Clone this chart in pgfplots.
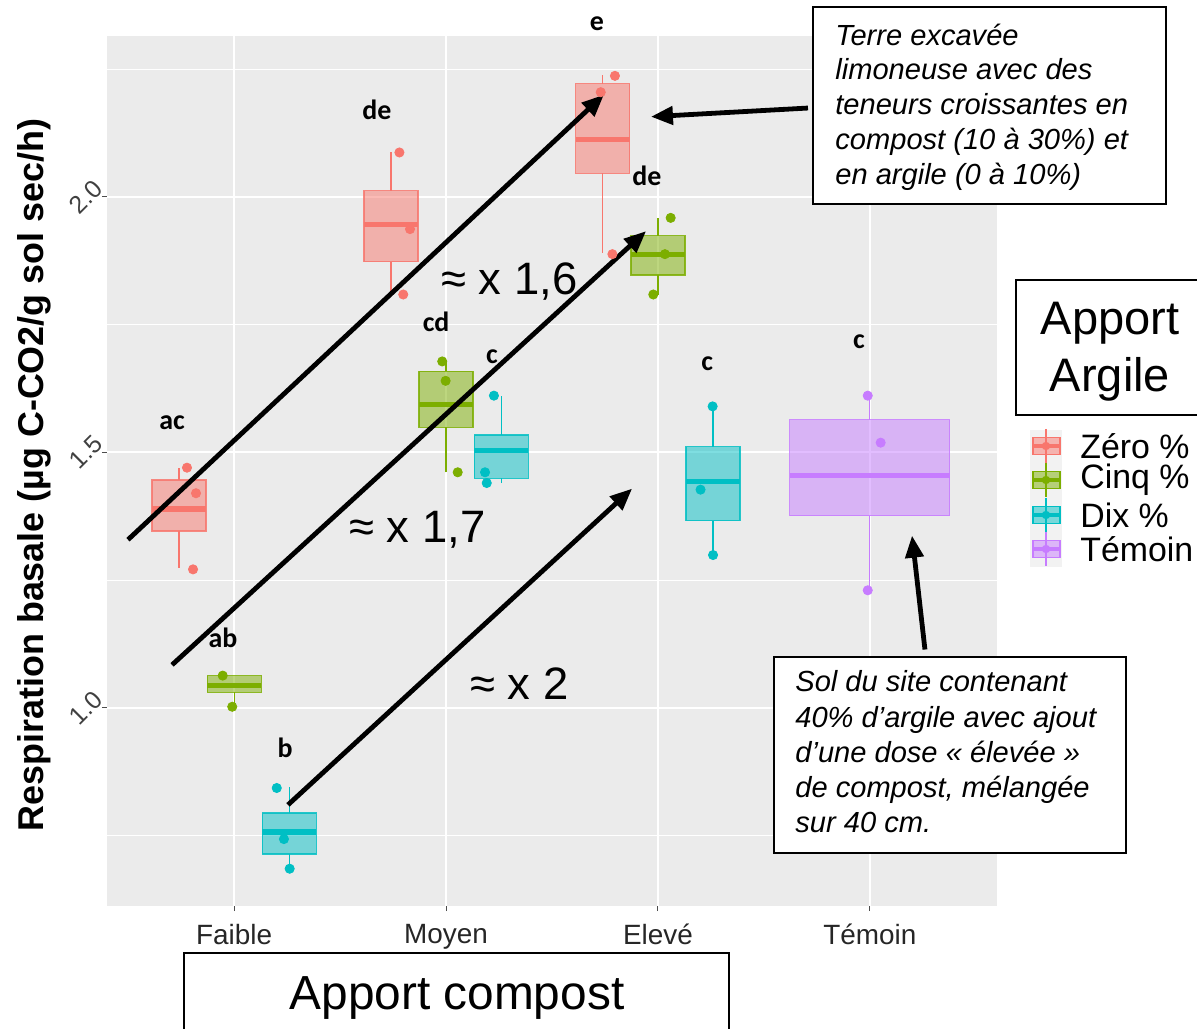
\documentclass[border=0pt]{standalone}
\usepackage{pgfplots}
\pgfplotsset{compat=1.18}
\usetikzlibrary{arrows.meta}
\usepackage{fontspec}
\setmainfont{Liberation Sans}
\newfontfamily\carlito{Carlito}
\definecolor{zred}{HTML}{F8766D}
\definecolor{zgreen}{HTML}{7CAE00}
\definecolor{zcyan}{HTML}{00BFC4}
\definecolor{zpurple}{HTML}{C77CFF}
\definecolor{panelgrey}{HTML}{EBEBEB}
\definecolor{keygrey}{HTML}{F2F2F2}
\definecolor{tickgrey}{HTML}{4D4D4D}
\pgfplotsset{
  pts/.style={only marks, mark=*, mark size=2.3bp, color=#1, mark options={draw=none, fill=#1}},
}
% color, center, left, right, lower whisker, lower quartile, median, upper quartile, upper whisker
\newcommand{\bxp}[9]{%
  \addplot[draw=#1, line width=0.6bp] coordinates {(#2,#5) (#2,#6)};
  \addplot[draw=#1, line width=0.6bp] coordinates {(#2,#8) (#2,#9)};
  \addplot[draw=#1, draw opacity=0.85, fill=#1, fill opacity=0.5, line width=0.6bp] coordinates {(#3,#6) (#4,#6) (#4,#8) (#3,#8)} -- cycle;
  \addplot[draw=#1, line width=2.6bp] coordinates {(#3,#7) (#4,#7)};
}
\newcommand{\lett}[3]{\node[font=\carlito\bfseries\fontsize{14}{16}\selectfont, text=black] at (axis cs:#1,#2) {#3};}
\begin{document}
\begin{tikzpicture}
\useasboundingbox (0,0) rectangle (598.5bp,-514.5bp);
\begin{axis}[
  at={(53.5bp,-453bp)}, anchor=south west,
  scale only axis, width=445bp, height=435bp,
  xmin=-0.6, xmax=3.6, ymin=0.612, ymax=2.315,
  axis background/.style={fill=panelgrey},
  axis line style={draw=none},
  xtick={0,1,2,3}, xticklabels={Faible,Moyen,Elevé,Témoin},
  ytick={1,1.5,2}, minor ytick={0.75,1.25,1.75,2.25},
  xtick pos=bottom, ytick pos=left,
  grid=both,
  major grid style={white, line width=1.1bp},
  minor grid style={white, line width=0.55bp},
  tick align=outside, major tick length=2.5bp, minor tick length=0pt,
  tick style={tickgrey, line width=0.5bp},
  /pgf/number format/assume math mode=true,
  yticklabel={\pgfmathprintnumber[fixed, fixed zerofill, precision=1]{\tick}},
  xticklabel style={font=\fontsize{14}{16}\selectfont, text=black!85, yshift=-3bp},
  yticklabel style={font=\fontsize{12.5}{14}\selectfont, text=black!75, xshift=-8bp, rotate=45, anchor=center},
  clip=false,
]
% boxplots
\bxp{zred}{-0.26}{-0.3875}{-0.1325}{1.274}{1.346}{1.389}{1.446}{1.470}
\bxp{zgreen}{0}{-0.1275}{0.1275}{1.002}{1.030}{1.044}{1.063}{1.063}
\bxp{zcyan}{0.26}{0.1325}{0.3875}{0.685}{0.714}{0.757}{0.794}{0.844}
\bxp{zred}{0.74}{0.6125}{0.8675}{1.809}{1.873}{1.946}{2.012}{2.087}
\bxp{zgreen}{1}{0.8725}{1.1275}{1.461}{1.549}{1.594}{1.659}{1.678}
\bxp{zcyan}{1.26}{1.1325}{1.3875}{1.440}{1.449}{1.504}{1.534}{1.611}
\bxp{zred}{1.74}{1.6125}{1.8675}{1.891}{2.046}{2.113}{2.222}{2.239}
\bxp{zgreen}{2}{1.8725}{2.1275}{1.809}{1.847}{1.888}{1.924}{1.959}
\bxp{zcyan}{2.26}{2.1325}{2.3875}{1.299}{1.366}{1.443}{1.511}{1.590}
\bxp{zpurple}{3}{2.6225}{3.3775}{1.230}{1.376}{1.454}{1.564}{1.611}
% points
\addplot[pts=zred] coordinates {(-0.2225,1.470) (-0.180,1.420) (-0.194,1.271) (0.780,2.087) (0.830,1.937) (0.798,1.809) (1.797,2.237) (1.730,2.205) (1.785,1.888)};
\addplot[pts=zgreen] coordinates {(-0.054,1.063) (-0.009,1.002) (0.982,1.678) (0.998,1.640) (1.055,1.461) (2.060,1.959) (2.033,1.888) (1.978,1.809)};
\addplot[pts=zcyan] coordinates {(0.201,0.843) (0.235,0.743) (0.262,0.685) (1.226,1.611) (1.184,1.461) (1.192,1.440) (2.258,1.590) (2.201,1.427) (2.260,1.299)};
\addplot[pts=zpurple] coordinates {(2.990,1.611) (3.051,1.519) (2.990,1.230)};
% letters
\lett{-0.293}{1.558}{ac}
\lett{-0.053}{1.137}{ab}
\lett{0.240}{0.922}{b}
\lett{0.674}{2.170}{de}
\lett{0.953}{1.755}{cd}
\lett{1.217}{1.687}{c}
\lett{1.712}{2.339}{e}
\lett{1.948}{2.041}{de}
\lett{2.232}{1.673}{c}
\lett{2.949}{1.716}{c}
% arrows
\begin{scope}[line width=2.4bp, -{Triangle[length=11bp,width=9bp]}]
\draw (axis cs:-0.501,1.329) -- (axis cs:1.745,2.200);
\draw (axis cs:-0.293,1.084) -- (axis cs:1.944,1.933);
\draw (axis cs:0.254,0.810) -- (axis cs:1.878,1.429);
\draw (axis cs:2.708,2.174) -- (axis cs:1.967,2.157);
\draw (axis cs:3.260,1.114) -- (axis cs:3.199,1.337);
\end{scope}
\end{axis}
\begin{scope}[x=0.5bp, y=-0.5bp]
% y label
\node[rotate=90, anchor=base, font=\bfseries\fontsize{18}{20}\selectfont] at (43,475) {Respiration basale (µg C-CO2/g sol sec/h)};
% factors
\node[anchor=base west, inner sep=0, font=\fontsize{22.8}{26}\selectfont] at (441,295) {≈ x 1,6};
\node[anchor=base west, inner sep=0, font=\fontsize{22.8}{26}\selectfont] at (349,543) {≈ x 1,7};
\node[anchor=base west, inner sep=0, font=\fontsize{22.8}{26}\selectfont] at (470,700) {≈ x 2};
% text box 1
\draw[fill=white, line width=1.1bp] (813,7) rectangle (1166,204);
\begin{scope}[every node/.style={anchor=base west, inner sep=0, font=\itshape\fontsize{14.6}{17}\selectfont}]
\node at (835,45) {Terre excavée};
\node at (835,80) {limoneuse avec des};
\node at (835,115) {teneurs croissantes en};
\node at (835,150) {compost (10 à 30\%) et};
\node at (835,185) {en argile (0 à 10\%)};
\end{scope}
% text box 2
\draw[fill=white, line width=1.1bp] (774,657) rectangle (1126,853);
\begin{scope}[every node/.style={anchor=base west, inner sep=0, font=\itshape\fontsize{14.6}{17}\selectfont}]
\node at (795,692) {Sol du site contenant};
\node at (795,728) {40\% d’argile avec ajout};
\node at (795,763) {d’une dose « élevée »};
\node at (795,798) {de compost, mélangée};
\node at (795,833) {sur 40 cm.};
\end{scope}
% legend title box
\fill[white] (1016,280) rectangle (1200,415);
\draw[line width=1.1bp] (1200,280) -- (1016,280) -- (1016,415) -- (1200,415);
\node[anchor=base, inner sep=0, font=\fontsize{23.6}{26}\selectfont] at (1110,335) {Apport};
\node[anchor=base, inner sep=0, font=\fontsize{23.6}{26}\selectfont] at (1110,392) {Argile};
% legend keys
\fill[keygrey] (1030,430) rectangle (1062,567);
\foreach \c/\cy/\lab in {zred/446/Zéro \%, zgreen/480/Cinq \%, zcyan/515/Dix \%, zpurple/549/Témoin}{
  \draw[\c, line width=0.6bp] (1046,\cy-17) -- (1046,\cy+17);
  \draw[\c, fill=\c, fill opacity=0.5, line width=0.6bp] (1033,\cy-8.5) rectangle (1060,\cy+8.5);
  \draw[\c, line width=2.2bp] (1033,\cy) -- (1060,\cy);
  \fill[\c] (1046,\cy) circle (4.2);
  \node[anchor=west, inner sep=0, font=\fontsize{17}{19}\selectfont] at (1080,\cy) {\lab};
}
% x title box
\fill[white] (184,953) rectangle (729,1035);
\draw[line width=1.1bp] (184,1035) -- (184,953) -- (729,953) -- (729,1035);
\node[anchor=base, inner sep=0, font=\fontsize{24}{27}\selectfont] at (457,1010) {Apport compost};
\end{scope}
\end{tikzpicture}
\end{document}
